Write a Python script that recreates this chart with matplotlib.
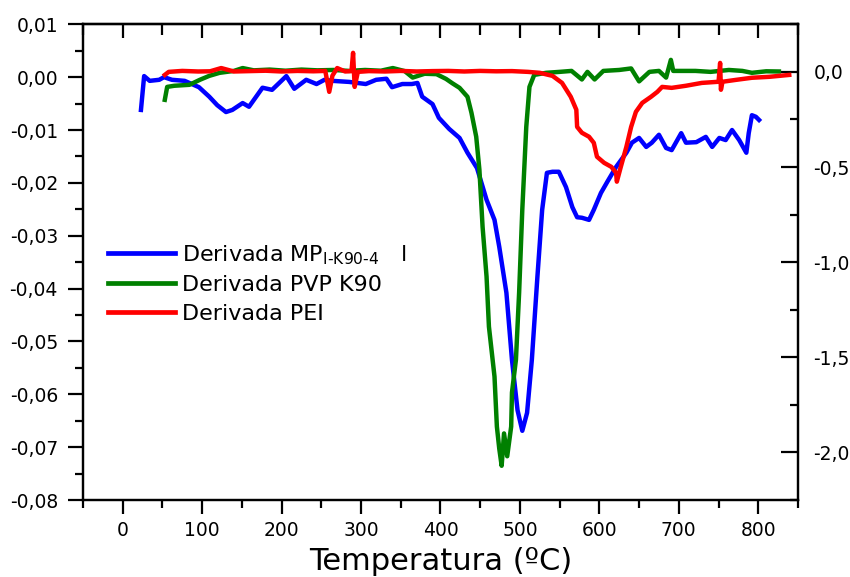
#!/usr/bin/env python3
"""
DTG curves (derivative of mass loss) for MP, PVP K90 and PEI.
Blue curve on the left axis, green/red curves on the right axis.
"""

import matplotlib
matplotlib.use("Agg")
import matplotlib.pyplot as plt
from matplotlib.ticker import MultipleLocator, FuncFormatter


# ── data ────────────────────────────────────────────────────
BLUE_T = [23, 27, 34, 46, 52, 62, 78, 96, 109, 119,
          130, 138, 151, 159, 176, 188, 206, 216, 231, 244,
          254, 264, 285, 306, 319, 332, 339, 352, 364, 371,
          377, 390, 398, 411, 424, 434, 446, 458, 468, 474,
          483, 490, 497, 503, 509, 515, 522, 528, 534, 541,
          549, 558, 566, 572, 578, 587, 593, 602, 610, 621,
          634, 641, 650, 659, 666, 675, 684, 691, 703, 709,
          722, 734, 742, 751, 759, 767, 776, 785, 788, 792,
          797, 801]
BLUE_V = [-0.0062, 0.0002, -0.0007, -0.0005, 0.0000, -0.0005, -0.0007, -0.0019, -0.0037, -0.0053,
          -0.0066, -0.0062, -0.0049, -0.0056, -0.0020, -0.0024, 0.0002, -0.0022, -0.0005, -0.0013,
          -0.0005, -0.0007, -0.0009, -0.0013, -0.0005, -0.0003, -0.0019, -0.0013, -0.0013, -0.0011,
          -0.0037, -0.0051, -0.0077, -0.0098, -0.0115, -0.0143, -0.0172, -0.0232, -0.0270, -0.0321,
          -0.0408, -0.0535, -0.0630, -0.0669, -0.0635, -0.0535, -0.0378, -0.0251, -0.0181, -0.0179,
          -0.0179, -0.0208, -0.0246, -0.0265, -0.0266, -0.0270, -0.0251, -0.0219, -0.0198, -0.0170,
          -0.0143, -0.0124, -0.0115, -0.0132, -0.0124, -0.0109, -0.0134, -0.0138, -0.0106, -0.0124,
          -0.0123, -0.0113, -0.0132, -0.0115, -0.0119, -0.0100, -0.0119, -0.0143, -0.0106, -0.0072,
          -0.0075, -0.0081]

GREEN_T = [53, 56, 65, 84, 97, 109, 122, 140, 151, 165,
           185, 205, 225, 245, 265, 285, 305, 325, 340, 355,
           365, 380, 395, 407, 415, 424, 434, 439, 445, 449,
           453, 458, 461, 468, 471, 474, 477, 480, 484, 489,
           490, 495, 499, 503, 508, 512, 518, 533, 550, 565,
           578, 585, 594, 605, 625, 640, 650, 663, 675, 684,
           690, 693, 705, 721, 740, 763, 780, 792, 810, 826]
GREEN_V = [-0.147, -0.079, -0.073, -0.068, -0.042, -0.021, -0.005, 0.005, 0.020, 0.008,
           0.012, 0.006, 0.012, 0.008, 0.010, 0.005, 0.010, 0.006, 0.020, 0.004,
           -0.030, -0.010, -0.012, -0.037, -0.060, -0.084, -0.131, -0.215, -0.341, -0.514,
           -0.814, -1.076, -1.339, -1.601, -1.864, -1.98, -2.07, -1.90, -2.02, -1.864,
           -1.685, -1.512, -1.160, -0.724, -0.289, -0.079, -0.016, -0.005, 0.0, 0.005,
           -0.040, 0.000, -0.040, 0.005, 0.010, 0.018, -0.050, 0.000, 0.005, -0.030,
           0.063, 0.005, 0.005, 0.005, 0.000, 0.010, 0.005, -0.005, 0.003, 0.002]

RED_T = [53, 58, 75, 95, 110, 124, 140, 160, 180, 200,
         220, 240, 255, 260, 264, 270, 280, 288, 290, 292,
         296, 310, 330, 350, 370, 390, 410, 430, 450, 470,
         490, 510, 525, 541, 553, 564, 571, 572, 578, 587,
         593, 597, 606, 615, 621, 622, 627, 634, 640, 646,
         654, 665, 673, 679, 691, 709, 729, 750, 752, 753,
         755, 772, 792, 814, 839]
RED_V = [-0.016, 0.000, 0.005, 0.002, 0.003, 0.020, 0.002, 0.004, 0.006, 0.002,
         0.005, 0.003, 0.005, -0.105, -0.020, 0.020, 0.002, 0.004, 0.100, -0.079,
         0.000, 0.004, 0.002, 0.005, 0.002, 0.004, 0.005, 0.002, 0.005, 0.003,
         0.004, 0.000, -0.005, -0.021, -0.058, -0.131, -0.199, -0.289, -0.320, -0.341,
         -0.373, -0.446, -0.478, -0.499, -0.530, -0.577, -0.499, -0.394, -0.289, -0.210,
         -0.163, -0.131, -0.105, -0.079, -0.084, -0.073, -0.058, -0.052, 0.047, -0.094,
         -0.052, -0.042, -0.031, -0.026, -0.016]

LABELS = [r"Derivada $\mathregular{MP_{I\text{-}K90\text{-}4}}$   l",
          "Derivada PVP K90",
          "Derivada PEI"]
COLORS = ["#0000ff", "#008000", "#ff0000"]

X_LABEL = "Temperatura (ºC)"


def comma_fmt(ndec):
    """Decimal comma tick labels, plain hyphen for minus."""
    def _f(v, pos):
        s = f"{v:.{ndec}f}"
        if float(s) == 0:
            s = f"{0:.{ndec}f}"
        return s.replace(".", ",")
    return FuncFormatter(_f)


def main():
    plt.rcParams["font.family"] = ["DejaVu Sans"]
    lw = 3.2
    spine_w = 1.6
    tick_fs = 13.5

    fig = plt.figure(figsize=(8.5, 5.77), dpi=100)
    ax = fig.add_axes([0.0976, 0.1334, 0.8412, 0.8245])
    ax2 = ax.twinx()

    l1, = ax.plot(BLUE_T, BLUE_V, color=COLORS[0], lw=lw, solid_joinstyle="round")
    l2, = ax2.plot(GREEN_T, GREEN_V, color=COLORS[1], lw=lw, solid_joinstyle="round")
    l3, = ax2.plot(RED_T, RED_V, color=COLORS[2], lw=lw, solid_joinstyle="round")

    # x axis
    ax.set_xlim(-50, 850)
    ax.xaxis.set_major_locator(MultipleLocator(100))
    ax.xaxis.set_minor_locator(MultipleLocator(50))
    ax.set_xlabel(X_LABEL, fontsize=22, labelpad=5)

    # left axis (blue)
    ax.set_ylim(-0.08, 0.01)
    ax.yaxis.set_major_locator(MultipleLocator(0.01))
    ax.yaxis.set_minor_locator(MultipleLocator(0.005))
    ax.yaxis.set_major_formatter(comma_fmt(2))

    # right axis (green / red)
    ax2.set_ylim(-2.25, 0.25)
    ax2.yaxis.set_major_locator(MultipleLocator(0.5))
    ax2.yaxis.set_minor_locator(MultipleLocator(0.25))
    ax2.yaxis.set_major_formatter(comma_fmt(1))

    ax.tick_params(axis="x", which="both", direction="out", top=False,
                   width=spine_w, labelsize=tick_fs, pad=5)
    ax.tick_params(axis="x", which="major", length=10)
    ax.tick_params(axis="x", which="minor", length=6)
    ax.tick_params(axis="y", which="both", direction="out", right=False,
                   width=spine_w, labelsize=tick_fs, pad=7)
    ax.tick_params(axis="y", which="major", length=11)
    ax.tick_params(axis="y", which="minor", length=6)
    ax2.tick_params(axis="y", which="both", direction="in",
                    width=spine_w, labelsize=tick_fs, pad=11)
    ax2.tick_params(axis="y", which="major", length=12)
    ax2.tick_params(axis="y", which="minor", length=6)

    # top ticks point inward, no labels
    top = ax.secondary_xaxis("top")
    top.xaxis.set_major_locator(MultipleLocator(100))
    top.xaxis.set_minor_locator(MultipleLocator(50))
    top.tick_params(axis="x", which="both", direction="in", labeltop=False,
                    width=spine_w)
    top.tick_params(axis="x", which="major", length=10)
    top.tick_params(axis="x", which="minor", length=8)

    for a in (ax, ax2):
        for sp in a.spines.values():
            sp.set_linewidth(spine_w)
    top.spines["top"].set_linewidth(spine_w)

    leg = ax2.legend([l1, l2, l3], LABELS, loc="upper left",
                     bbox_to_anchor=(0.035, 0.54), borderaxespad=0, borderpad=0,
                     frameon=False, fontsize=16, handlelength=3.0,
                     handletextpad=0.35, labelspacing=0.38)
    for h in leg.legend_handles:
        h.set_linewidth(3.4)

    fig.savefig("out.png", dpi=100)


if __name__ == "__main__":
    main()
